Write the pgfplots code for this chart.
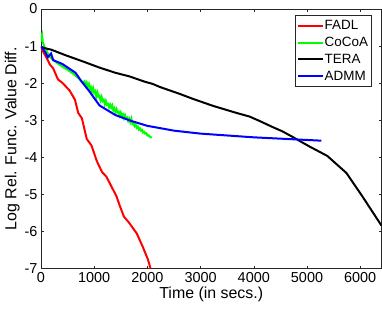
\documentclass[border=0pt]{standalone}
\usepackage{fontspec}
\setmainfont{Liberation Sans}
\usepackage{pgfplots}
\pgfplotsset{compat=1.18}
\begin{document}
\begin{tikzpicture}
\begin{axis}[
  scale only axis,
  width=341bp, height=260bp,
  xmin=0, xmax=6400, ymin=-7, ymax=0,
  xtick={0,1000,...,6000}, ytick={-7,-6,...,0},
  tick align=inside, major tick length=3bp,
  /pgf/number format/assume math mode=true,
  /pgf/number format/1000 sep={},
  scaled x ticks=false,
  tick label style={font=\fontsize{14.5}{16}\selectfont},
  label style={font=\fontsize{16}{18}\selectfont},
  axis line style={color=black!85, line width=0.5pt},
  every tick/.style={color=black!85, line width=0.5pt},
  xlabel={Time (in secs.)},
  ylabel={Log Rel. Func. Value Diff.},
  xlabel style={yshift=2bp},
  ylabel style={yshift=-2bp},
  legend style={at={(0.970,0.977)}, anchor=north east, font=\fontsize{13.5}{15}\selectfont,
    draw=black!85, line width=0.5pt, inner xsep=2bp, inner ysep=2bp, row sep=0bp,
    nodes={inner xsep=1bp, inner ysep=2.2bp, text height=10bp, text depth=2.5bp}, cells={anchor=west}},
  legend image code/.code={\draw[#1, line width=2bp] (0bp,0bp) -- (25bp,0bp);},
]
\addplot[red, line width=2bp] coordinates {
(0,-1.05) (100,-1.3) (170,-1.5) (230,-1.6) (320,-1.9) (410,-2.0) (540,-2.2) (640,-2.45)
(700,-2.8) (770,-2.95) (860,-3.5) (950,-3.68) (1050,-4.1) (1150,-4.4) (1230,-4.52)
(1330,-4.8) (1420,-5.05) (1480,-5.3) (1560,-5.6) (1650,-5.75) (1800,-6.05) (1910,-6.4)
(2010,-6.75) (2060,-7.0)};
\addlegendentry{FADL}
\addplot[color={rgb,1:red,0;green,1;blue,0}, line width=2bp] coordinates {
(0,-0.65) (10,-0.75) (20,-0.7) (35,-0.9) (50,-0.95) (70,-1.05) (100,-1.1) (130,-1.2)
(170,-1.3) (220,-1.36) (300,-1.45) (400,-1.55) (500,-1.64) (600,-1.74) (700,-1.86) (780,-1.97)
(800,-1.98) (820,-1.95) (840,-2.06) (860,-1.99) (880,-2.08) (900,-2.02) (920,-2.17) (940,-2.11)
(960,-2.22) (980,-2.13) (1000,-2.26) (1020,-2.22) (1040,-2.36) (1060,-2.25) (1080,-2.36) (1100,-2.34)
(1120,-2.46) (1140,-2.37) (1160,-2.48) (1180,-2.45) (1200,-2.57) (1220,-2.48) (1240,-2.58) (1260,-2.56)
(1280,-2.65) (1300,-2.58) (1320,-2.66) (1340,-2.60) (1360,-2.73) (1380,-2.68) (1400,-2.78) (1420,-2.70)
(1440,-2.79) (1460,-2.77) (1480,-2.87) (1500,-2.79) (1520,-2.88) (1540,-2.84) (1560,-2.94) (1580,-2.86)
(1600,-2.95) (1620,-2.93) (1640,-3.02) (1660,-2.96) (1680,-3.05) (1700,-2.96) (1720,-3.10) (1740,-3.08)
(1760,-3.16) (1780,-3.12) (1800,-3.20) (1820,-3.17) (1840,-3.25) (1860,-3.22) (1880,-3.28) (1900,-3.26)
(1920,-3.33) (1940,-3.31) (1960,-3.36) (1980,-3.35) (2000,-3.41) (2020,-3.40) (2040,-3.44) (2060,-3.45)
(2080,-3.48)};
\addlegendentry{CoCoA}
\addplot[black, line width=2bp] coordinates {
(0,-1.03) (200,-1.1) (450,-1.24) (800,-1.42) (1100,-1.58) (1400,-1.72) (1670,-1.82)
(1950,-1.96) (2100,-2.02) (2230,-2.1) (2610,-2.29) (2850,-2.42) (3230,-2.61) (3670,-2.8)
(3920,-2.9) (4110,-3.02) (4350,-3.18) (4540,-3.3) (4730,-3.45) (5050,-3.71) (5380,-3.96)
(5740,-4.42) (6040,-5.05) (6400,-5.84)};
\addlegendentry{TERA}
\addplot[blue, line width=2bp] coordinates {
(0,-1.0) (75,-1.15) (130,-1.3) (190,-1.2) (230,-1.38) (400,-1.48) (650,-1.72) (760,-1.95)
(900,-2.2) (1100,-2.6) (1400,-2.86) (1700,-3.02) (2000,-3.15) (2500,-3.28) (3000,-3.36)
(4000,-3.46) (5270,-3.55)};
\addlegendentry{ADMM}
\end{axis}
\pgfresetboundingbox
\path ([shift={(-41bp,-45bp)}]current axis.south west) rectangle ([shift={(0.5bp,9bp)}]current axis.north east);
\end{tikzpicture}
\end{document}
